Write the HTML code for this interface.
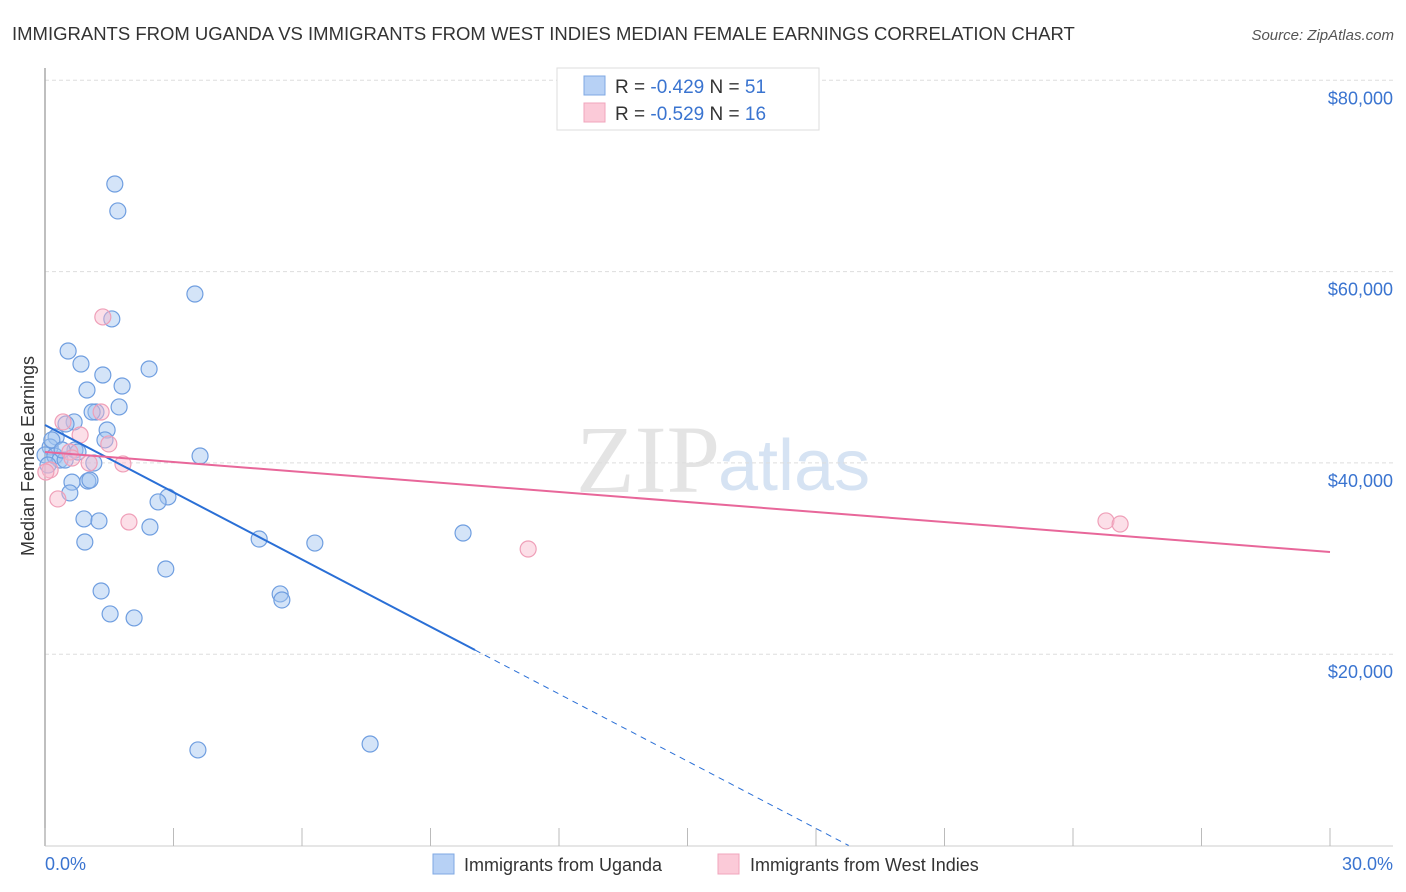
<!DOCTYPE html>
<html><head><meta charset="utf-8">
<style>
body{margin:0;background:#fff;font-family:"Liberation Sans",sans-serif;}
svg{display:block}
</style></head>
<body>
<svg id="chart" width="1406" height="892">
<text x="12" y="40" font-size="18.5" fill="#333">IMMIGRANTS FROM UGANDA VS IMMIGRANTS FROM WEST INDIES MEDIAN FEMALE EARNINGS CORRELATION CHART</text>
<text x="1394" y="40" font-size="15" fill="#555" font-style="italic" text-anchor="end">Source: ZipAtlas.com</text>
<text x="34" y="456" font-size="18" fill="#333" text-anchor="middle" transform="rotate(-90 34 456)">Median Female Earnings</text>
<text x="720" y="492" font-size="96" fill="#e4e4e4" text-anchor="end" font-family="Liberation Serif,serif">ZIP</text>
<text x="718" y="490" font-size="72" fill="#d6e3f3">atlas</text>
<g id="grid"></g>
<line x1="45" y1="68" x2="45" y2="846" stroke="#aaa" stroke-width="1.5"/>
<line x1="45" y1="846" x2="1393" y2="846" stroke="#ccc" stroke-width="1"/>
<g id="ticks"></g>
<g id="pts"></g>
<g id="lines"></g>
<text x="45" y="870" font-size="18" fill="#3a74d0">0.0%</text>
<text x="1393" y="870" font-size="18" fill="#3a74d0" text-anchor="end">30.0%</text>
<g>
<rect x="557" y="68" width="262" height="62" fill="#fff" stroke="#ddd"/>
<rect x="584" y="76" width="21" height="19" fill="#b7d1f5" stroke="#7fa8e3"/>
<rect x="584" y="103" width="21" height="19" fill="#fbcad8" stroke="#f0a5bc"/>
<text x="615" y="93" font-size="19" fill="#333">R = <tspan fill="#3a74d0">-0.429</tspan>   N = <tspan fill="#3a74d0">51</tspan></text>
<text x="615" y="120" font-size="19" fill="#333">R = <tspan fill="#3a74d0">-0.529</tspan>   N = <tspan fill="#3a74d0">16</tspan></text>
</g>
<g>
<rect x="433" y="854" width="21" height="20" fill="#b7d1f5" stroke="#7fa8e3"/>
<text x="464" y="871" font-size="18" fill="#333">Immigrants from Uganda</text>
<rect x="718" y="854" width="21" height="20" fill="#fbcad8" stroke="#f0a5bc"/>
<text x="750" y="871" font-size="18" fill="#333">Immigrants from West Indies</text>
</g>
</svg>
<script>
const yTicks=[20000,40000,60000,80000];
const yTickLabels=["$20,000","$40,000","$60,000","$80,000"];
const xTickVals=[0,3,6,9,12,15,18,21,24,27,30];
const ugX=[1.63,1.70,3.50,1.56,0.54,0.84,2.43,1.35,1.80,0.98,1.73,1.19,1.10,0.68,0.49,1.45,1.40,0.26,0.12,0.00,0.23,0.35,0.47,0.70,0.77,1.14,3.62,0.63,1.00,1.05,0.58,2.87,2.64,0.91,1.26,2.45,0.93,5.00,6.30,9.76,2.82,1.31,5.49,5.53,1.52,2.08,3.57,7.59,0.07,0.16,0.40];
const ugY=[69160,66340,57660,55050,51700,50340,49820,49190,48040,47620,45850,45320,45320,44280,44070,43440,42400,42710,41660,40830,40720,40300,40300,41350,41140,39990,40720,37990,38100,38200,36860,36440,35920,34140,33930,33300,31730,32040,31620,32670,28910,26610,26300,25670,24210,23790,9990,10610,39780,42400,41350];
const wiX=[1.35,0.42,1.31,0.82,1.49,0.58,1.82,1.03,0.12,0.02,0.30,1.96,11.28,24.77,25.10,0.63];
const wiY=[55260,44280,45320,42920,41980,41140,39890,39990,39260,39050,36230,33820,31000,33930,33610,40510];
const ugTrend=[43960,-2343];
const ugSolidEnd=10.04;
const wiTrend=[41140,-348.7];
const NS="http://www.w3.org/2000/svg";
function sx(v){return 45+v/30*1285;}
function sy(v){return 845.5-v/20000*191.3;}
function mk(tag,attrs,parent){const e=document.createElementNS(NS,tag);for(const k in attrs)e.setAttribute(k,attrs[k]);document.getElementById(parent).appendChild(e);return e;}
yTicks.forEach((t,i)=>{
  const l=mk('line',{x1:45,x2:1393,y1:sy(t),y2:sy(t),stroke:'#ddd','stroke-dasharray':'4,3'},'grid');
  
  
  const tx=mk('text',{x:1393,y:sy(t)+24,'font-size':18,fill:'#3a74d0','text-anchor':'end'},'grid');
  tx.textContent=yTickLabels[i];
  
  
});
xTickVals.forEach(v=>{
  const l=mk('line',{x1:sx(v),x2:sx(v),y1:828,y2:846,stroke:'#bbb'},'ticks');
  
  
});
ugX.forEach((x,i)=>{
  const c=mk('circle',{cx:sx(x),cy:sy(ugY[i]),r:8,fill:'rgba(160,195,240,0.45)',stroke:'#6f9ee0','stroke-width':1.2},'pts');
  
  
});
wiX.forEach((x,i)=>{
  const c=mk('circle',{cx:sx(x),cy:sy(wiY[i]),r:8,fill:'rgba(248,185,205,0.45)',stroke:'#ef9fb8','stroke-width':1.2},'pts');
  
  
});
const ugEnd=-ugTrend[0]/ugTrend[1];
const l1=mk('line',{x1:sx(0),y1:sy(ugTrend[0]),x2:sx(ugSolidEnd),y2:sy(ugTrend[0]+ugTrend[1]*ugSolidEnd),stroke:'#2a6fd6','stroke-width':2},'lines');


const l2=mk('line',{x1:sx(ugSolidEnd),y1:sy(ugTrend[0]+ugTrend[1]*ugSolidEnd),x2:sx(ugEnd),y2:sy(0),stroke:'#2a6fd6','stroke-width':1,'stroke-dasharray':'6,5'},'lines');


const l3=mk('line',{x1:sx(0),y1:sy(wiTrend[0]),x2:sx(30),y2:sy(wiTrend[0]+wiTrend[1]*30),stroke:'#e8679a','stroke-width':2},'lines');


</script>
</body></html>
